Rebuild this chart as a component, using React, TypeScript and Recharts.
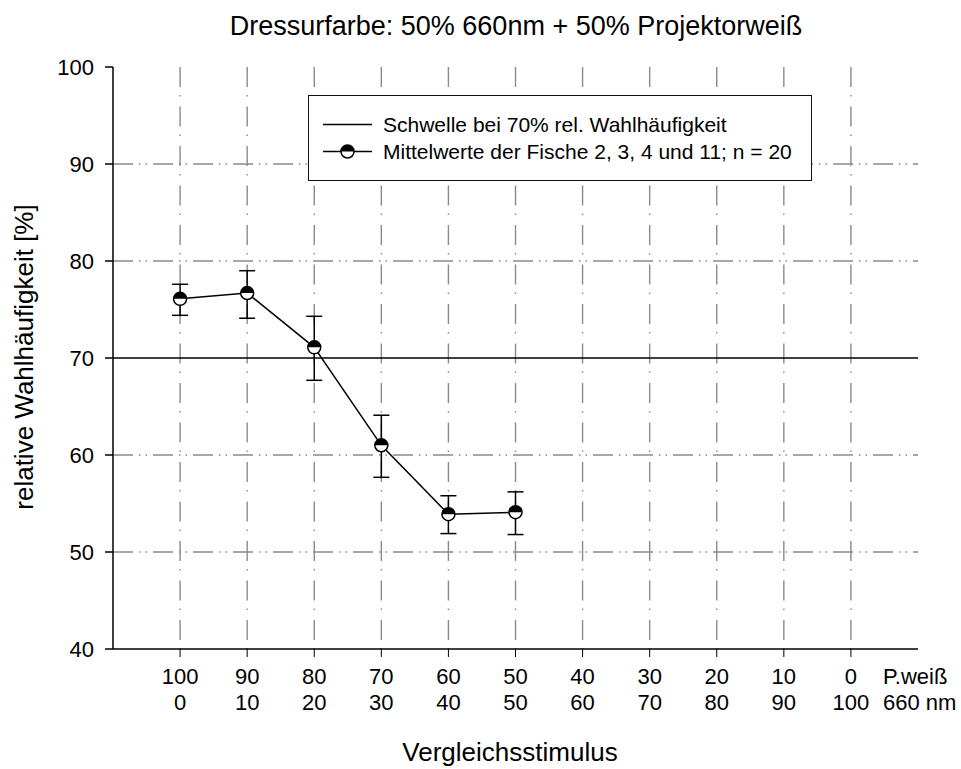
import {
  CartesianGrid,
  ComposedChart,
  ErrorBar,
  Label,
  Legend,
  Line,
  ReferenceLine,
  XAxis,
  YAxis,
} from "recharts";

// x positions of the comparison stimuli (12 = extra column for the row names)
const STIM_POS = [1, 2, 3, 4, 5, 6, 7, 8, 9, 10, 11, 12];
const WHITE_PCT = ["100", "90", "80", "70", "60", "50", "40", "30", "20", "10", "0", "P.weiß"];
const RED_PCT = ["0", "10", "20", "30", "40", "50", "60", "70", "80", "90", "100", "660 nm"];

const MEASURED_POS = [1, 2, 3, 4, 5, 6];
const MEAN = [76.1, 76.7, 71.1, 61.0, 53.9, 54.1];
const UPPER = [77.6, 79.0, 74.3, 64.1, 55.8, 56.2];
const LOWER = [74.4, 74.1, 67.7, 57.7, 51.9, 51.8];

const Y_TICKS = [40, 50, 60, 70, 80, 90, 100];
const H_GRID = [50, 60, 80, 90];
const V_GRID = [1, 2, 3, 4, 5, 6, 7, 8, 9, 10, 11];
const THRESHOLD = 70;

const rows = MEASURED_POS.map((pos, i) => ({
  pos,
  mean: MEAN[i],
  err: [MEAN[i] - LOWER[i], UPPER[i] - MEAN[i]],
}));

const FONT = "'Liberation Sans', Arial, sans-serif";
const GRID_GREY = "#8a8a8a";

function HalfDot(props: any) {
  const { cx, cy } = props;
  if (cx == null || cy == null) return null;
  const r = 6.5;
  return (
    <g>
      <circle cx={cx} cy={cy} r={r} fill="#fff" stroke="#000" strokeWidth={1.5} />
      <path d={`M ${cx - r} ${cy} A ${r} ${r} 0 0 1 ${cx + r} ${cy} Z`} fill="#000" />
    </g>
  );
}

function StimTick(props: any) {
  const { x, y, payload } = props;
  const idx = STIM_POS.indexOf(payload.value);
  if (idx < 0) return null;
  const last = idx === STIM_POS.length - 1;
  return (
    <g>
      {!last && <line x1={x} y1={y} x2={x} y2={y + 8} stroke="#000" />}
      <text
        x={last ? x - 35 : x}
        y={y + 35}
        textAnchor={last ? "start" : "middle"}
        fontSize={22}
        fill="#000"
      >
        {WHITE_PCT[idx]}
      </text>
      <text
        x={last ? x - 35 : x}
        y={y + 61}
        textAnchor={last ? "start" : "middle"}
        fontSize={22}
        fill="#000"
      >
        {RED_PCT[idx]}
      </text>
    </g>
  );
}

function LegendBox() {
  const row = { display: "flex", alignItems: "center", height: 27 } as const;
  return (
    <div
      style={{
        boxSizing: "border-box",
        width: "100%",
        height: "100%",
        border: "1px solid #111",
        background: "#fff",
        paddingTop: 15,
        fontSize: 21,
        color: "#000",
        whiteSpace: "nowrap",
      }}
    >
      <div style={row}>
        <svg width={49} height={27} style={{ marginLeft: 14, marginRight: 11 }}>
          <line x1={0} y1={13.5} x2={49} y2={13.5} stroke="#000" strokeWidth={1.5} />
        </svg>
        <span>Schwelle bei 70% rel. Wahlhäufigkeit</span>
      </div>
      <div style={row}>
        <svg width={49} height={27} style={{ marginLeft: 14, marginRight: 11 }}>
          <line x1={0} y1={13.5} x2={49} y2={13.5} stroke="#000" strokeWidth={1.5} />
          <HalfDot cx={24.5} cy={13.5} />
        </svg>
        <span>Mittelwerte der Fische 2, 3, 4 und 11; n = 20</span>
      </div>
    </div>
  );
}

export default function App() {
  return (
    <div style={{ position: "absolute", left: 0, top: 0, fontFamily: FONT, background: "#fff" }}>
      <ComposedChart
        width={961}
        height={769}
        data={rows}
        margin={{ top: 67, right: 43, bottom: 0, left: 0 }}
      >
        <CartesianGrid
          horizontal={false}
          verticalValues={V_GRID}
          stroke={GRID_GREY}
          strokeWidth={1.4}
          strokeDasharray="20 8 1.5 10"
        />
        <CartesianGrid
          vertical={false}
          horizontalValues={H_GRID}
          stroke={GRID_GREY}
          strokeWidth={1.4}
          strokeDasharray="20 6 1.5 5 1.5 6"
        />
        <XAxis
          dataKey="pos"
          type="number"
          domain={[0, 12]}
          ticks={STIM_POS}
          interval={0}
          tick={<StimTick />}
          tickLine={false}
          tickSize={0}
          tickMargin={0}
          height={120}
          axisLine={{ stroke: "#000", strokeWidth: 1.5 }}
        >
          <Label
            content={() => (
              <g>
                <text x={516} y={35} textAnchor="middle" fontSize={27} fill="#000">
                  Dressurfarbe: 50% 660nm + 50% Projektorweiß
                </text>
                <text x={510} y={761} textAnchor="middle" fontSize={26} fill="#000">
                  Vergleichsstimulus
                </text>
              </g>
            )}
          />
        </XAxis>
        <XAxis
          xAxisId="top"
          orientation="top"
          type="number"
          domain={[0, 12]}
          height={0}
          tick={false}
          tickLine={false}
          axisLine={{ stroke: "#000", strokeWidth: 1.5 }}
        />
        <YAxis
          type="number"
          domain={[40, 100]}
          ticks={Y_TICKS}
          interval={0}
          width={113}
          tickSize={8}
          tickMargin={11}
          tick={{ fill: "#000", fontSize: 22 }}
          tickLine={{ stroke: "#000", strokeWidth: 1.5 }}
          axisLine={{ stroke: "#000", strokeWidth: 1.5 }}
        >
          <Label
            content={() => (
              <text
                transform="translate(33,357) rotate(-90)"
                textAnchor="middle"
                fontSize={26}
                fill="#000"
              >
                relative Wahlhäufigkeit [%]
              </text>
            )}
          />
        </YAxis>
        <YAxis
          yAxisId="right"
          orientation="right"
          type="number"
          domain={[40, 100]}
          width={0}
          tick={false}
          tickLine={false}
          axisLine={{ stroke: "#000", strokeWidth: 1.5 }}
        />
        <ReferenceLine y={THRESHOLD} stroke="#000" strokeWidth={1.5} />
        <Line
          dataKey="mean"
          stroke="#000"
          strokeWidth={1.5}
          dot={<HalfDot />}
          activeDot={false}
          isAnimationActive={false}
        >
          <ErrorBar
            dataKey="err"
            direction="y"
            width={8}
            stroke="#000"
            strokeWidth={1.5}
            isAnimationActive={false}
          />
        </Line>
        <Legend
          layout="vertical"
          align="center"
          verticalAlign="middle"
          content={<LegendBox />}
          wrapperStyle={{ position: "absolute", left: 308, top: 95, width: 504, height: 86 }}
        />
      </ComposedChart>
    </div>
  );
}
